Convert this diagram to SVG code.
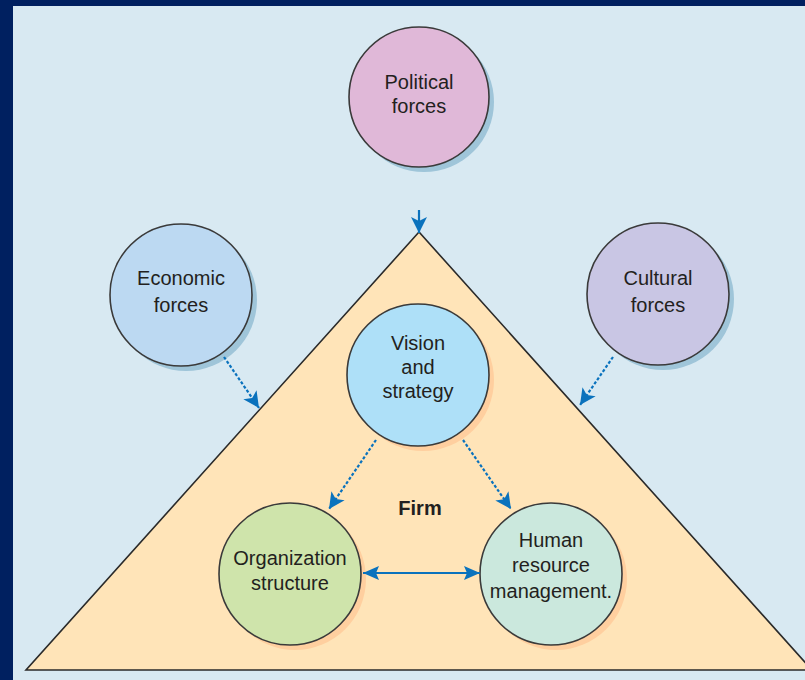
<svg xmlns="http://www.w3.org/2000/svg" width="805" height="680" viewBox="0 0 805 680">
<style>
.node{stroke:#3a3a3a;stroke-width:1.6}
.sh1{fill:#9fc5d9}
.sh2{fill:#ffcf9f}
.t{font-family:"Liberation Sans",Arial,sans-serif;font-size:20px;fill:#231f20;text-anchor:middle}
.firm{font-weight:bold;font-size:20px}
.con{stroke:#0a72bd;stroke-width:2.2;fill:none}
.dot{stroke-dasharray:3 2}
</style>
<defs>
<marker id="ah" markerUnits="userSpaceOnUse" markerWidth="20" markerHeight="18" viewBox="0 0 20 18" refX="16" refY="9" orient="auto-start-reverse">
<path d="M0,1 L16,9 L0,17 L4,9 z" fill="#0a72bd"/>
</marker>
<marker id="ah2" markerUnits="userSpaceOnUse" markerWidth="30" markerHeight="18" viewBox="0 0 30 18" refX="24" refY="9" orient="auto-start-reverse">
<path d="M8,2 L24,9 L8,16 L11,9 z" fill="#0a72bd"/>
</marker>
</defs>
<rect width="805" height="680" fill="#002060"/>
<rect x="13" y="6" width="792" height="674" fill="#d8e9f2"/>
<g id="firm">
<polygon points="419,232 26,670 812,670" fill="#ffe4b8" stroke="#2a2a2a" stroke-width="1.6"/>
<text class="t firm" x="420" y="515">Firm</text>
</g>
<g id="political">
<circle class="sh1" cx="424" cy="102" r="70"/>
<circle class="node" cx="419" cy="97" r="70" fill="#e0b8d8"/>
<text class="t" x="419" y="89">Political</text>
<text class="t" x="419" y="113">forces</text>
</g>
<g id="economic">
<circle class="sh1" cx="186" cy="300" r="71"/>
<circle class="node" cx="181" cy="295" r="71" fill="#bcd9f2"/>
<text class="t" x="181" y="285">Economic</text>
<text class="t" x="181" y="312">forces</text>
</g>
<g id="cultural">
<circle class="sh1" cx="663" cy="299" r="71"/>
<circle class="node" cx="658" cy="294" r="71" fill="#c9c6e4"/>
<text class="t" x="658" y="285">Cultural</text>
<text class="t" x="658" y="312">forces</text>
</g>
<g id="vision">
<circle class="sh2" cx="423" cy="380" r="71"/>
<circle class="node" cx="418" cy="375" r="71" fill="#aee0f8"/>
<text class="t" x="418" y="350">Vision</text>
<text class="t" x="418" y="374">and</text>
<text class="t" x="418" y="398">strategy</text>
</g>
<g id="organization">
<circle class="sh2" cx="295" cy="579" r="71"/>
<circle class="node" cx="290" cy="574" r="71" fill="#cfe4ab"/>
<text class="t" x="290" y="565">Organization</text>
<text class="t" x="290" y="590">structure</text>
</g>
<g id="hrm">
<circle class="sh2" cx="556" cy="579" r="71"/>
<circle class="node" cx="551" cy="574" r="71" fill="#cbe8dd"/>
<text class="t" x="551" y="547">Human</text>
<text class="t" x="551" y="572">resource</text>
<text class="t" x="551" y="598">management.</text>
</g>
<g id="connectors">
<line class="con" x1="419" y1="210" x2="419" y2="233" marker-end="url(#ah)"/>
<line class="con dot" x1="224" y1="357" x2="259" y2="408" marker-end="url(#ah)"/>
<line class="con dot" x1="613" y1="357" x2="580" y2="405" marker-end="url(#ah)"/>
<line class="con dot" x1="376" y1="440" x2="329" y2="509" marker-end="url(#ah)"/>
<line class="con dot" x1="463" y1="440" x2="511" y2="509" marker-end="url(#ah)"/>
<line class="con" x1="363" y1="573" x2="480" y2="573" marker-start="url(#ah2)" marker-end="url(#ah2)"/>
</g>
</svg>
